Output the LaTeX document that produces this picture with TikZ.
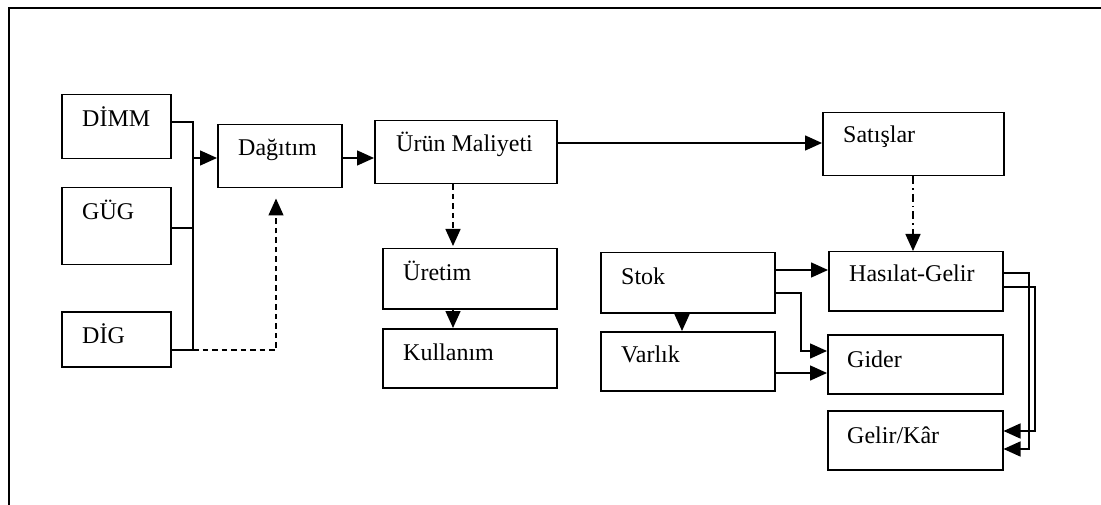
\documentclass[tikz,border=0pt]{standalone}
\usepackage{fontspec}
\setmainfont{Liberation Serif}
\usetikzlibrary{arrows.meta,calc}

\tikzset{
  box/.style={draw, line width=1.5pt, rectangle, anchor=north west, inner sep=0pt},
  txt/.style={anchor=base west, inner sep=0pt, font=\fontsize{24}{28}\selectfont},
  link/.style={line width=1.5pt},
  tip/.style={-{Triangle[length=17pt,width=15pt]}},
  dashline/.style={dash pattern=on 5.5pt off 4pt},
  dashdotline/.style={dash pattern=on 8pt off 4pt on 1.5pt off 4pt},
}

% a box given by its upper-left and lower-right corners (pixels, y downwards)
\newcommand{\mkbox}[5]{%
  \node[box, minimum width={(#4-#2)*1pt}, minimum height={(#5-#3)*1pt}] (#1) at (#2,#3) {};}

\begin{document}
\begin{tikzpicture}[x=1pt,y=-1pt]
  \useasboundingbox (0,0) rectangle (1101,505);

  % outer frame (top and left edges)
  \coordinate (fbl) at (9,505);
  \coordinate (ftl) at (9,8);
  \coordinate (ftr) at (1101,8);
  \draw[link] (fbl) -- (ftl) -- (ftr);

  % boxes
  \mkbox{dimm}{61}{94}{170}{158}
  \mkbox{gug}{61}{187}{170}{264}
  \mkbox{dig}{61}{311}{170}{366}
  \mkbox{dag}{217}{124}{341}{187}
  \mkbox{urun}{374}{120}{556}{183}
  \mkbox{sat}{822}{112}{1003}{175}
  \mkbox{uret}{382}{248}{556}{308}
  \mkbox{kul}{382}{328}{556}{387}
  \mkbox{stok}{600}{252}{774}{312}
  \mkbox{varl}{600}{331}{774}{390}
  \mkbox{has}{828}{251}{1002}{310}
  \mkbox{gid}{827}{334}{1002}{393}
  \mkbox{gk}{827}{410}{1002}{469}

  % labels
  \node[txt] (tdimm) at (82,127) {DİMM};
  \node[txt] (tgug)  at (82,220) {GÜG};
  \node[txt] (tdig)  at (82,343) {DİG};
  \node[txt] (tdag)  at (238,156) {Dağıtım};
  \node[txt] (turun) at (396,152) {Ürün Maliyeti};
  \node[txt] (tsat)  at (843,143) {Satışlar};
  \node[txt] (turet) at (403,281) {Üretim};
  \node[txt] (tkul)  at (403,360) {Kullanım};
  \node[txt] (tstok) at (621,284) {Stok};
  \node[txt] (tvarl) at (621,362) {Varlık};
  \node[txt] (thas)  at (849,282) {Hasılat-Gelir};
  \node[txt] (tgid)  at (847,367) {Gider};
  \node[txt] (tgk)   at (847,443) {Gelir/Kâr};

  % collecting bus on the left
  \coordinate (busT) at (193,122);
  \coordinate (busM) at (193,158);
  \coordinate (busB) at (193,350);
  \draw[link] (dimm.east |- busT) -- (busT) -- (busB) -- (dig.east |- busB);
  \draw[link] (gug.east |- 0,228) -- (193,228);
  \draw[link,tip] (busM) -- (dag.west |- busM);

  % dashed feedback from DİG to Dağıtım
  \coordinate (dcorner) at (276,350);
  \draw[link,dashline,tip] (busB) -- (dcorner) -- ($(dag.south -| dcorner)+(0,10)$);

  % main flow
  \draw[link,tip] (dag.east |- busM) -- (urun.west |- busM);
  \draw[link,tip] (urun.east |- 0,143) -- (sat.west |- 0,143);
  \draw[link,dashline,tip] (urun.south -| 453,0) -- ($(uret.north -| 453,0)+(0,-2)$);
  \draw[link,tip] (uret.south -| 453,0) -- (kul.north -| 453,0);
  \draw[link,dashdotline,tip] (sat.south -| 913,0) -- (has.north -| 913,0);

  % stock and asset flows
  \draw[link,tip] (stok.south -| 682,0) -- (varl.north -| 682,0);
  \draw[link,tip] (stok.east |- 0,270) -- (has.west |- 0,270);
  \draw[link,tip] (stok.east |- 0,293) -- (801,293) -- (801,351) -- (gid.west |- 0,351);
  \draw[link,tip] (varl.east |- 0,373) -- (gid.west |- 0,373);

  % revenue to profit
  \draw[link,tip] (has.east |- 0,273) -- (1029,273) -- (1029,449) -- (gk.east |- 0,449);
  \draw[link,tip] (has.east |- 0,287) -- (1035,287) -- (1035,431) -- (gk.east |- 0,431);
\end{tikzpicture}
\end{document}
